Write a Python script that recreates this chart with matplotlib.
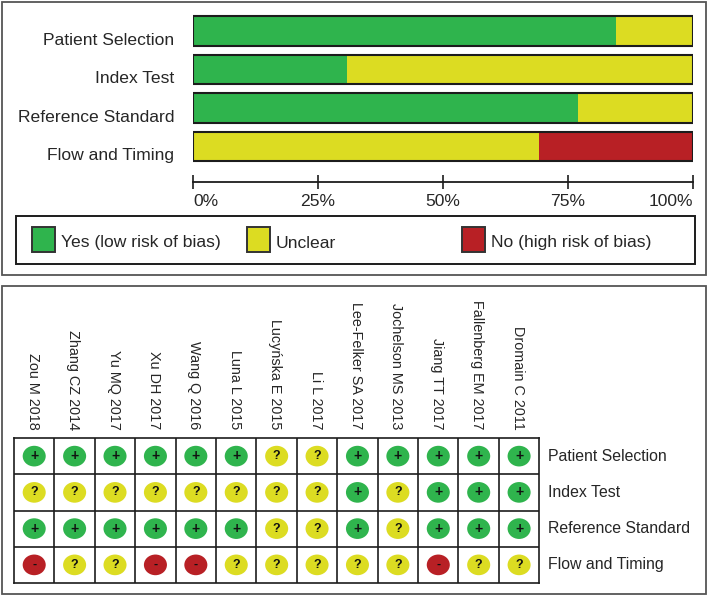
import matplotlib
matplotlib.use("Agg")
import matplotlib.pyplot as plt
from matplotlib.patches import Rectangle, Ellipse
from matplotlib.transforms import ScaledTranslation

plt.rcParams['font.family'] = ['Liberation Sans', 'DejaVu Sans']

W, H = 709, 596
GREEN, YELLOW, RED = '#2fb44d', '#dcdc22', '#b82025'
INK = '#1c1c1c'
TEXT = '#262626'

domains = ['Patient Selection', 'Index Test', 'Reference Standard', 'Flow and Timing']
yes_pct = [84.6, 30.8, 76.9, 0.0]
unclear_pct = [15.4, 69.2, 23.1, 69.2]
no_pct = [0.0, 0.0, 0.0, 30.8]
x_ticks = [0, 25, 50, 75, 100]
x_labels = ['0%', '25%', '50%', '75%', '100%']
legend_labels = ['Yes (low risk of bias)', 'Unclear', 'No (high risk of bias)']

studies = ['Zou M 2018', 'Zhang CZ 2014', 'Yu MQ 2017', 'Xu DH 2017', 'Wang Q 2016',
           'Luna L 2015', 'Lucyńska E 2015', 'Li L 2017', 'Lee-Felker SA 2017',
           'Jochelson MS 2013', 'Jiang TT 2017', 'Fallenberg EM 2017', 'Dromain C 2011']
patient_selection = ['+', '+', '+', '+', '+', '+', '?', '?', '+', '+', '+', '+', '+']
index_test = ['?', '?', '?', '?', '?', '?', '?', '?', '+', '?', '+', '+', '+']
reference_standard = ['+', '+', '+', '+', '+', '+', '?', '?', '+', '?', '+', '+', '+']
flow_timing = ['-', '?', '?', '-', '-', '?', '?', '?', '?', '?', '-', '?', '?']


def axes_px(x0, y0, x1, y1, **kw):
    return fig.add_axes([x0 / W, 1 - y1 / H, (x1 - x0) / W, (y1 - y0) / H], **kw)


def shift(label, dx_px, dy_px):
    label.set_transform(label.get_transform()
                        + ScaledTranslation(dx_px / 100, -dy_px / 100, fig.dpi_scale_trans))


fig = plt.figure(figsize=(W / 100, H / 100), dpi=100, facecolor='white')

# page-level frames, in pixel coordinates
page = fig.add_axes([0, 0, 1, 1], zorder=0)
page.set_xlim(0, W)
page.set_ylim(H, 0)
page.axis('off')
page.add_patch(Rectangle((2, 2), 704, 273, fc='none', ec='#555555', lw=1.3))
page.add_patch(Rectangle((2, 286), 704, 308, fc='none', ec='#555555', lw=1.3))
page.add_patch(Rectangle((16, 216), 679, 48, fc='none', ec=INK, lw=1.4))
for x, col, lab, tx in zip([32, 247, 462], [GREEN, YELLOW, RED], legend_labels, [61, 276, 491]):
    page.add_patch(Rectangle((x, 227), 23, 25, fc=col, ec='#333333', lw=1.4))
    page.text(tx, 247.5, lab, fontsize=12.6, color=TEXT, va='baseline', ha='left')

# stacked bars
ax = axes_px(193, 10, 693, 190, zorder=1)
ax.patch.set_alpha(0)
ax.set_xlim(0, 100)
ax.set_ylim(4.13, -0.545)
for i, name in enumerate(domains):
    left = 0
    for val, col in zip([yes_pct[i], unclear_pct[i], no_pct[i]], [GREEN, YELLOW, RED]):
        if val > 0:
            ax.barh(i, val, left=left, height=0.77, color=col, lw=0)
        left += val
    ax.barh(i, 100, height=0.77, fc='none', ec=INK, lw=1.5)
for s in ['left', 'right', 'top']:
    ax.spines[s].set_visible(False)
ax.spines['bottom'].set_position(('data', 3.92))
ax.spines['bottom'].set_color(INK)
ax.spines['bottom'].set_linewidth(1.3)
ax.set_xticks(x_ticks)
ax.set_xticklabels(x_labels, fontsize=12.6, color=TEXT)
ax.tick_params(axis='x', direction='inout', length=9.4, width=1.2, color=INK, pad=4)
tl = ax.get_xticklabels()
tl[0].set_ha('left')
tl[-1].set_ha('right')
ax.set_yticks(range(4))
ax.set_yticklabels(domains, fontsize=12.6, color=TEXT)
ax.tick_params(axis='y', length=0, pad=13.5)
for lab in ax.get_yticklabels():
    shift(lab, 0, 8)

# traffic-light grid
g = axes_px(14, 438, 539.3, 583, zorder=1)
g.set_xlim(-0.5, 12.5)
g.set_ylim(3.5, -0.5)
g.set_xticks([i + 0.5 for i in range(12)], minor=True)
g.set_yticks([i + 0.5 for i in range(3)], minor=True)
g.grid(which='minor', color=INK, lw=1.2)
g.tick_params(which='both', length=0)
g.set_axisbelow(True)
for s in g.spines.values():
    s.set_color(INK)
    s.set_linewidth(1.2)

colours = {'+': GREEN, '?': YELLOW, '-': RED}
rows = [patient_selection, index_test, reference_standard, flow_timing]
for r, row in enumerate(rows):
    for c, v in enumerate(row):
        g.add_patch(Ellipse((c, r), 0.57, 0.57, fc=colours[v], ec='none', zorder=3))
        g.text(c, r, v, ha='center', va='center', fontsize=10 if v == '+' else 9,
               fontweight='bold', color='#111111', zorder=4)

g.set_xticks(range(13))
g.set_xticklabels(studies, rotation=270, fontsize=10.4, color=TEXT, ha='center', va='bottom')
g.xaxis.tick_top()
g.tick_params(axis='x', which='major', pad=6, length=0)
g.yaxis.tick_right()
g.set_yticks(range(4))
g.set_yticklabels(domains, fontsize=11.4, color=TEXT)
g.tick_params(axis='y', which='major', pad=6, length=0)
for lab in g.get_xticklabels():
    shift(lab, -1.5, 0)
for lab in g.get_yticklabels():
    shift(lab, 0, -1.5)

fig.savefig('out.png', dpi=100, facecolor='white')
